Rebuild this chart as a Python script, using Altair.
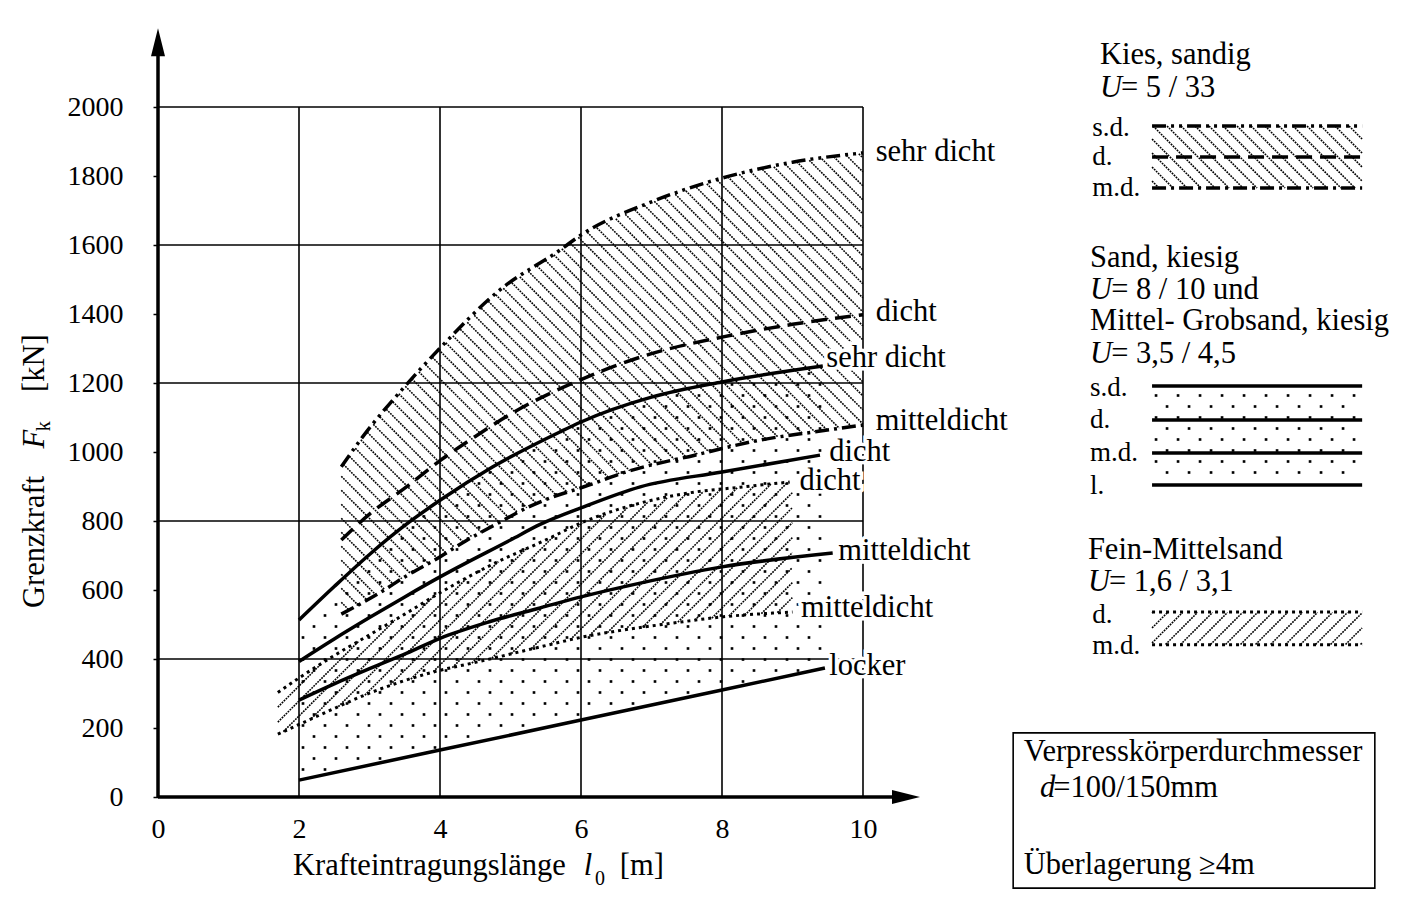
import altair as alt
import numpy as np
import pandas as pd

FONT = "Liberation Serif"
W, H = 705, 690
X_DOMAIN = [0, 10]
Y_DOMAIN = [0, 2000]

# ---------------- data ----------------
# Kies, sandig  U = 5/33
kies_sd_x = [2.6, 2.9, 3.5, 4.0, 4.85, 5.7, 6.0, 7.0, 8.0, 9.0, 10.0]
kies_sd_y = [957, 1043, 1190, 1301, 1470, 1585, 1629, 1725, 1794, 1840, 1867]
kies_d_x = [2.6, 3.0, 3.5, 4.0, 4.5, 5.0, 6.0, 7.0, 8.0, 9.0, 10.0]
kies_d_y = [745, 820, 895, 975, 1045, 1110, 1210, 1285, 1333, 1370, 1398]
kies_md_x = [2.6, 3.13, 3.54, 3.95, 4.37, 4.78, 5.25, 5.5, 6.1, 6.65, 7.05, 7.6, 8.0, 8.55, 9.3, 10.0]
kies_md_y = [530, 590, 643, 690, 743, 789, 840, 862, 903, 943, 965, 990, 1010, 1035, 1058, 1078]

# Sand, kiesig / Mittel-Grobsand, kiesig
sand_sd_x = [2.0, 2.5, 3.0, 3.5, 4.0, 4.75, 5.7, 6.0, 7.0, 8.0, 9.43]
sand_sd_y = [513, 610, 703, 787, 860, 957, 1058, 1087, 1159, 1203, 1249]
sand_d_x = [2.0, 2.5, 3.0, 3.5, 4.0, 5.0, 5.42, 6.0, 6.84, 8.0, 9.39]
sand_d_y = [393, 458, 520, 580, 638, 745, 790, 838, 899, 942, 991]
sand_md_x = [2.0, 2.5, 3.0, 3.53, 4.0, 4.7, 5.42, 6.0, 6.84, 8.0, 9.57]
sand_md_y = [281, 328, 372, 417, 460, 508, 548, 580, 620, 667, 707]
sand_l_x = [2.0, 4.0, 6.0, 8.0, 9.46]
sand_l_y = [49, 136, 223, 310, 374]

# Fein-Mittelsand  U = 1,6/3,1
fein_d_x = [1.7, 2.0, 2.5, 3.0, 3.5, 4.0, 4.75, 5.5, 6.03, 6.84, 7.55, 8.26, 8.96]
fein_d_y = [303, 345, 410, 470, 530, 592, 675, 745, 797, 852, 882, 898, 913]
fein_md_x = [1.7, 2.3, 3.0, 3.9, 4.52, 5.42, 6.03, 6.6, 7.3, 8.0, 8.72, 9.0]
fein_md_y = [182, 238, 301, 362, 391, 435, 464, 484, 504, 522, 533, 536]

# curve labels
curve_lbl_text = ["sehr dicht", "dicht", "mitteldicht", "sehr dicht", "dicht", "dicht",
                  "mitteldicht", "mitteldicht", "locker"]
curve_lbl_x = [10.18, 10.18, 10.18, 9.48, 9.52, 9.1, 9.65, 9.12, 9.52]
curve_lbl_y = [1870, 1406, 1090, 1272, 1000, 916, 713, 548, 380]

# ticks
x_ticks = [0, 2, 4, 6, 8, 10]
y_ticks = list(range(0, 2001, 200))
grid_x = [2, 4, 6, 8, 10]
grid_y = [400, 800, 1200, 1600, 2000]

# legend (right side)
leg_x0, leg_x1 = 14.1, 17.08
leg_kies_y = [1945, 1855, 1765]
leg_sand_y = [1191, 1093, 997, 904]
leg_fein_y = [536, 441]

leg_head = ["Kies, sandig", "Sand, kiesig", "Mittel- Grobsand, kiesig", "Fein-Mittelsand",
            "Verpresskörperdurchmesser", "Überlagerung  \u22654m"]
leg_head_x = [13.36, 13.22, 13.22, 13.19, 12.28, 12.28]
leg_head_y = [2151, 1562, 1380, 716, 130, -197]
leg_abbr = ["s.d.", "d.", "m.d.", "s.d.", "d.", "m.d.", "l.", "d.", "m.d."]
leg_abbr_x = [13.25, 13.25, 13.25, 13.22, 13.22, 13.22, 13.22, 13.25, 13.25]
leg_abbr_y = [1939, 1855, 1765, 1186, 1093, 997, 901, 528, 438]
leg_ital = ["U", "U", "U", "U", "d"]
leg_ital_x = [13.36, 13.22, 13.22, 13.19, 12.51]
leg_ital_y = [2055, 1470, 1284, 623, 26]
leg_rest = ["= 5  /  33", "= 8  /  10    und", "= 3,5  /  4,5", "= 1,6  /  3,1", "=100/150mm"]
leg_rest_x = [13.66, 13.52, 13.52, 13.49, 12.70]
leg_rest_y = [2055, 1470, 1284, 623, 26]
box_x, box_x2, box_y, box_y2 = 12.13, 17.26, 186, -264

# ------------------------------------------------------------
TXT = 30.5
kx = W / (X_DOMAIN[1] - X_DOMAIN[0])
ky = H / (Y_DOMAIN[1] - Y_DOMAIN[0])

xsc = alt.Scale(domain=X_DOMAIN, nice=False, zero=False)
ysc = alt.Scale(domain=Y_DOMAIN, nice=False, zero=False)
XAX = alt.Axis(values=x_ticks, title=None, grid=False, domain=False, tickSize=0, format="d",
               labelFont=FONT, labelFontSize=28, labelColor="black", labelPadding=18,
               labelFlush=False, labelOverlap=False)
YAX = alt.Axis(values=y_ticks, title=None, grid=False, domain=False, tickSize=5, tickWidth=1.5,
               format="d", tickColor="black", labelFont=FONT, labelFontSize=28, labelColor="black",
               labelPadding=30, labelFlush=False, labelOverlap=False)


def X(f="x"):
    return alt.X(f"{f}:Q", scale=xsc, axis=XAX)


def Y(f="y"):
    return alt.Y(f"{f}:Q", scale=ysc, axis=YAX)


def hatch(lo_x, lo_y, hi_x, hi_y, x0, x1, slope, gap):
    px = np.arange(x0 * kx, x1 * kx + 1e-9, 0.5)
    xd = px / kx
    lo = np.interp(xd, lo_x, lo_y) * ky
    hi = np.interp(xd, hi_x, hi_y) * ky
    c_lo = (lo - slope * px).min()
    c_hi = (hi - slope * px).max()
    rows = []
    for c in np.arange(np.floor(c_lo / gap) * gap, c_hi + gap, gap):
        py = slope * px + c
        inside = (py >= lo) & (py <= hi)
        if not inside.any():
            continue
        idx = np.flatnonzero(inside)
        br = np.flatnonzero(np.diff(idx) > 1)
        starts = np.r_[idx[0], idx[br + 1]]
        ends = np.r_[idx[br], idx[-1]]
        for s, e in zip(starts, ends):
            if e > s:
                rows.append({"x": xd[s], "y": py[s] / ky, "x2": xd[e], "y2": py[e] / ky})
    return pd.DataFrame(rows)


def dots(lo_x, lo_y, hi_x, hi_y, x0, x1, dx, dy):
    rows = []
    for j, py in enumerate(np.arange(dy / 2, H + 200, dy)):
        off = (j % 2) * dx / 2
        for px in np.arange(x0 * kx + 4 + off, x1 * kx - 2, dx):
            xd = px / kx
            lo = np.interp(xd, lo_x, lo_y) * ky
            hi = np.interp(xd, hi_x, hi_y) * ky
            if lo + 3 < py < hi - 3:
                rows.append({"x": xd, "y": py / ky})
    return pd.DataFrame(rows)


def curve(xs, ys, name):
    return pd.DataFrame({"x": xs, "y": ys, "name": name})


def lines(df, dash=None, width=3.5):
    kw = dict(color="black", strokeWidth=width, interpolate="monotone", strokeCap="butt")
    if dash:
        kw["strokeDash"] = dash
    return alt.Chart(df).mark_line(**kw).encode(x=X(), y=Y(), detail="name:N")


def hatch_layer(df, width=1.6):
    return alt.Chart(df).mark_rule(color="black", strokeWidth=width, strokeDash=[1.8, 1.0]).encode(
        x=X(), y=Y(), x2="x2:Q", y2="y2:Q")


def dot_layer(df):
    return alt.Chart(df).mark_square(color="black", size=7, opacity=1).encode(x=X(), y=Y())


def texts(df, size=TXT, italic=False, angle=0, halo=False, align="left", baseline="middle"):
    kw = dict(font=FONT, fontSize=size, fontStyle="italic" if italic else "normal",
              align=align, baseline=baseline, angle=angle)
    out = []
    if halo:
        out.append(alt.Chart(df).mark_text(color="white", stroke="white", strokeWidth=7, **kw).encode(
            x=X(), y=Y(), text="t:N"))
    out.append(alt.Chart(df).mark_text(color="black", **kw).encode(x=X(), y=Y(), text="t:N"))
    return out


# regions
kies_hatch = hatch(kies_md_x, kies_md_y, kies_sd_x, kies_sd_y, 2.6, 10.0, -1, 14)
fein_hatch = hatch(fein_md_x, fein_md_y, fein_d_x, fein_d_y, 1.7, 9.0, 1, 15)
sand_dots = dots(sand_l_x, sand_l_y, sand_sd_x, sand_sd_y, 2.0, 9.46, 22, 11)

leg_kies_hatch = hatch([leg_x0, leg_x1], [leg_kies_y[2]] * 2, [leg_x0, leg_x1], [leg_kies_y[0]] * 2,
                       leg_x0, leg_x1, -1, 14)
leg_fein_hatch = hatch([leg_x0, leg_x1], [leg_fein_y[1]] * 2, [leg_x0, leg_x1], [leg_fein_y[0]] * 2,
                       leg_x0, leg_x1, 1, 15)
leg_sand_dots = dots([leg_x0, leg_x1], [leg_sand_y[3]] * 2, [leg_x0, leg_x1], [leg_sand_y[0]] * 2,
                     leg_x0, leg_x1, 22, 11)

# grid + axes
grid_v = pd.DataFrame({"x": grid_x, "y": [0] * 5, "y2": [2000] * 5})
grid_h = pd.DataFrame({"y": grid_y, "x": [0] * 5, "x2": [10] * 5})
axis_base = alt.Chart(pd.DataFrame({"x": [0, 10], "y": [0, 2000]})).mark_point(opacity=0).encode(
    x=X(), y=Y())
grid_v_l = alt.Chart(grid_v).mark_rule(color="black", strokeWidth=1.6).encode(x=X(), y=Y(), y2="y2:Q")
grid_h_l = alt.Chart(grid_h).mark_rule(color="black", strokeWidth=1.6).encode(y=Y(), x=X(), x2="x2:Q")
yaxis = alt.Chart(pd.DataFrame({"x": [0], "y": [0], "y2": [2200]})).mark_rule(
    color="black", strokeWidth=3.5).encode(x=X(), y=Y(), y2="y2:Q")
xaxis = alt.Chart(pd.DataFrame({"x": [0], "x2": [10.62], "y": [0]})).mark_rule(
    color="black", strokeWidth=3.5).encode(x=X(), x2="x2:Q", y=Y())
arrow_up = alt.Chart(pd.DataFrame({"x": [0], "y": [2188]})).mark_point(
    shape="M0,-1L0.5,1L-0.5,1Z", size=784, filled=True, color="black", opacity=1).encode(x=X(), y=Y())
arrow_right = alt.Chart(pd.DataFrame({"x": [10.61], "y": [0]})).mark_point(
    shape="M1,0L-1,0.5L-1,-0.5Z", size=784, filled=True, color="black", opacity=1).encode(x=X(), y=Y())

# curves
kies_sd = curve(kies_sd_x, kies_sd_y, "kies_sd")
kies_d = curve(kies_d_x, kies_d_y, "kies_d")
kies_md = curve(kies_md_x, kies_md_y, "kies_md")
sand = pd.concat([curve(sand_sd_x, sand_sd_y, "sd"), curve(sand_d_x, sand_d_y, "d"),
                  curve(sand_md_x, sand_md_y, "md"), curve(sand_l_x, sand_l_y, "l")])
fein = pd.concat([curve(fein_d_x, fein_d_y, "fd"), curve(fein_md_x, fein_md_y, "fmd")])

leg_kies = [curve([leg_x0, leg_x1], [v, v], f"lk{i}") for i, v in enumerate(leg_kies_y)]
leg_sand = pd.concat([curve([leg_x0, leg_x1], [v, v], f"ls{i}") for i, v in enumerate(leg_sand_y)])
leg_fein = pd.concat([curve([leg_x0, leg_x1], [v, v], f"lf{i}") for i, v in enumerate(leg_fein_y)])

DASHDOTDOT = [14, 5, 3, 5, 3, 5]
DASHED = [16, 8]
DASHDOT = [14, 5, 3, 5]
DOTTED = [3, 4]

# texts
curve_lbl = pd.DataFrame({"t": curve_lbl_text, "x": curve_lbl_x, "y": curve_lbl_y})
leg_hd = pd.DataFrame({"t": leg_head, "x": leg_head_x, "y": leg_head_y})
leg_ab = pd.DataFrame({"t": leg_abbr, "x": leg_abbr_x, "y": leg_abbr_y})
leg_it = pd.DataFrame({"t": leg_ital, "x": leg_ital_x, "y": leg_ital_y})
leg_rs = pd.DataFrame({"t": leg_rest, "x": leg_rest_x, "y": leg_rest_y})

xt_main = pd.DataFrame({"t": ["Krafteintragungslänge", "[m]"], "x": [1.915, 6.55], "y": [-200, -200]})
xt_it = pd.DataFrame({"t": ["l"], "x": [6.04], "y": [-200]})
xt_sub = pd.DataFrame({"t": ["0"], "x": [6.2], "y": [-237]})
yt_main = pd.DataFrame({"t": ["Grenzkraft", "[kN]"], "x": [-1.745, -1.745], "y": [548, 1174]})
yt_it = pd.DataFrame({"t": ["F"], "x": [-1.745], "y": [1010]})
yt_sub = pd.DataFrame({"t": ["k"], "x": [-1.62], "y": [1060]})

box = alt.Chart(pd.DataFrame({"x": [box_x], "x2": [box_x2], "y": [box_y], "y2": [box_y2]})).mark_rect(
    filled=False, stroke="black", strokeWidth=1.6).encode(x=X(), x2="x2:Q", y=Y(), y2="y2:Q")

layers = [
    axis_base,
    hatch_layer(kies_hatch), hatch_layer(fein_hatch), dot_layer(sand_dots),
    hatch_layer(leg_kies_hatch), hatch_layer(leg_fein_hatch), dot_layer(leg_sand_dots),
    grid_v_l, grid_h_l,
    lines(kies_sd, DASHDOTDOT), lines(kies_d, DASHED), lines(kies_md, DASHDOT),
    lines(sand), lines(fein, DOTTED, 3),
    lines(leg_kies[0], DASHDOTDOT), lines(leg_kies[1], DASHED), lines(leg_kies[2], DASHDOT),
    lines(leg_sand), lines(leg_fein, DOTTED, 3),
    yaxis, xaxis, arrow_up, arrow_right, box,
]
layers += texts(curve_lbl, halo=True)
layers += texts(leg_hd) + texts(leg_ab, size=27) + texts(leg_it, italic=True) + texts(leg_rs)
layers += texts(xt_main) + texts(xt_it, italic=True) + texts(xt_sub, size=20)
layers += texts(yt_main, angle=270) + texts(yt_it, angle=270, italic=True) + texts(yt_sub, angle=270, size=20)

chart = alt.layer(*layers).properties(
    width=W, height=H,
    padding={"left": 158, "top": 107, "right": 1414 - 158 - W, "bottom": 915 - 107 - H},
    autosize=alt.AutoSizeParams(type="none"),
    background="white",
).configure_view(stroke="transparent")

chart.save("out.html", embed_options={"renderer": "svg", "actions": False})
